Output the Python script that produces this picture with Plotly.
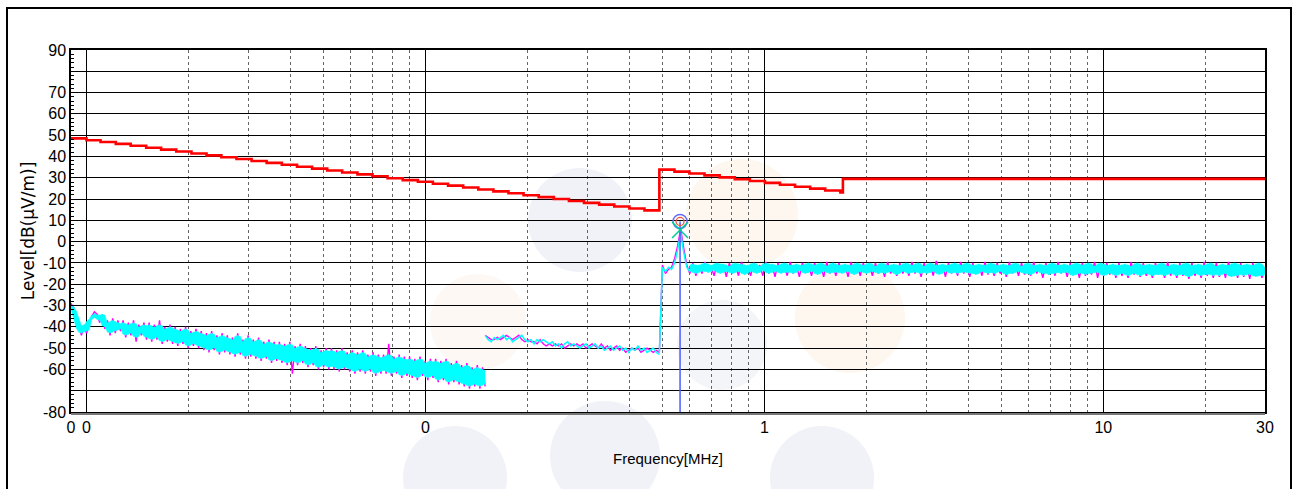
import numpy as np
import plotly.graph_objects as go

# ---------------- data ----------------
limit_freq = [0.0090, 0.0100, 0.0110, 0.0122, 0.0135, 0.0150, 0.0166, 0.0184, 0.0204, 0.0226,
              0.0250, 0.0277, 0.0307, 0.0340, 0.0377, 0.0418, 0.0463, 0.0513, 0.0568, 0.0630,
              0.0698, 0.0773, 0.0857, 0.0950, 0.1052, 0.1166, 0.1292, 0.1432, 0.1587, 0.1758,
              0.1948, 0.2159, 0.2392, 0.2651, 0.2937, 0.3255, 0.3607, 0.3997, 0.4429,
              0.490, 0.543, 0.601, 0.666, 0.738, 0.818, 0.906, 1.004, 1.112, 1.232, 1.365,
              1.512, 1.676, 1.705, 30.0]
limit_level = [48.5, 47.6, 46.8, 45.9, 45.0, 44.1, 43.2, 42.3, 41.4, 40.5,
               39.6, 38.8, 37.9, 37.0, 36.1, 35.2, 34.3, 33.4, 32.5, 31.6,
               30.7, 29.8, 28.9, 28.1, 27.2, 26.3, 25.4, 24.5, 23.6, 22.7,
               21.8, 20.9, 20.0, 19.1, 18.2, 17.4, 16.5, 15.6, 14.7,
               33.8, 32.9, 32.0, 31.1, 30.2, 29.3, 28.5, 27.6, 26.7, 25.8, 24.9,
               24.0, 23.1, 29.5, 29.5]

seg1_start, seg1_stop = 0.009, 0.15
seg2_start, seg2_stop = 0.15, 0.49
seg3_start, seg3_stop = 0.49, 30.0

cyan_seg1 = [-30, -32, -36, -41, -43, -39, -42, -37, -36, -34,
             -35, -37, -34, -40, -38, -43, -37, -42, -38, -41,
             -38, -44, -39, -43, -38, -45, -40, -43, -39, -45,
             -39, -46, -40, -45, -39, -47, -41, -46, -40, -47,
             -41, -48, -42, -47, -41, -49, -43, -48, -42, -49,
             -43, -50, -44, -51, -43, -50, -45, -52, -44, -51,
             -45, -52, -46, -53, -44, -52, -47, -54, -45, -53,
             -47, -54, -46, -55, -48, -54, -47, -56, -48, -55,
             -48, -56, -49, -57, -48, -56, -50, -57, -49, -56,
             -50, -58, -51, -57, -50, -59, -52, -58, -51, -59,
             -51, -59, -52, -60, -51, -59, -53, -60, -52, -61,
             -53, -60, -52, -61, -54, -60, -53, -62, -54, -61,
             -54, -61, -53, -62, -55, -61, -54, -63, -55, -62,
             -55, -63, -56, -64, -55, -62, -57, -64, -56, -63,
             -56, -65, -57, -64, -56, -66, -58, -65, -57, -66,
             -59, -67, -58, -68, -60, -67, -59, -68, -60, -67]
magenta_seg1 = [-29, -31, -35, -40, -44, -40, -43, -38, -35, -33,
                -34, -38, -35, -41, -37, -44, -36, -43, -37, -42,
                -37, -45, -38, -44, -37, -47, -39, -44, -38, -46,
                -38, -47, -39, -46, -37, -48, -40, -47, -39, -48,
                -40, -49, -41, -48, -40, -50, -42, -49, -41, -50,
                -42, -51, -43, -52, -42, -51, -44, -53, -43, -52,
                -44, -53, -45, -54, -43, -53, -46, -55, -44, -54,
                -46, -55, -45, -56, -47, -55, -46, -57, -47, -56,
                -47, -57, -48, -58, -47, -62, -49, -58, -48, -57,
                -49, -59, -50, -58, -49, -60, -51, -59, -50, -60,
                -50, -60, -51, -61, -50, -60, -52, -61, -51, -62,
                -52, -61, -51, -62, -53, -61, -52, -63, -53, -62,
                -53, -62, -48, -63, -54, -62, -53, -64, -54, -63,
                -54, -64, -55, -65, -54, -63, -56, -65, -55, -64,
                -55, -66, -56, -65, -55, -67, -57, -66, -56, -67,
                -58, -68, -57, -69, -59, -68, -58, -69, -59, -68]

cyan_seg2 = [-44, -46, -47, -45, -46, -45, -44, -46, -45, -47,
             -46, -45, -44, -46, -47, -46, -48, -46, -47, -46,
             -47, -48, -47, -49, -48, -50, -48, -47, -49, -48,
             -49, -50, -49, -48, -50, -49, -48, -50, -49, -51,
             -50, -49, -51, -50, -49, -51, -50, -52, -50, -51,
             -49, -51, -50, -52, -51, -50, -52, -53]
magenta_seg2 = [-44, -45, -46, -46, -45, -46, -45, -44, -45, -46,
                -45, -44, -46, -47, -46, -47, -47, -48, -46, -48,
                -49, -48, -49, -48, -49, -48, -50, -49, -48, -49,
                -48, -49, -48, -50, -49, -48, -49, -50, -48, -50,
                -49, -51, -50, -49, -51, -50, -52, -51, -50, -51,
                -50, -52, -51, -50, -51, -52, -51, -52]

cyan_seg3 = [-52, -12, -14, -12, -13, -10, -4, 4, -5, -12,
             -14, -10.5, -15, -11, -14, -10, -14.5, -11, -13.5, -10,
             -15, -10.5, -14, -11.5, -15, -10, -14, -10.5, -15.5, -11,
             -14, -10, -15, -11.5, -13.5, -10, -15, -10.5, -14, -11,
             -15, -10, -14.5, -11, -15, -10.5, -13.5, -11, -15, -10,
             -14, -11, -15.5, -10, -14, -11.5, -15, -10, -14.5, -11,
             -15, -10.5, -14, -11, -15.5, -10, -14, -11, -15, -10,
             -14, -11.5, -15, -10, -15, -11, -14, -10.5, -15.5, -11,
             -14, -10, -15, -11, -14.5, -10, -15, -11.5, -15, -10,
             -14, -11, -15.5, -10.5, -14, -11, -15, -10, -15, -11,
             -14.5, -10, -15, -11, -15.5, -10.5, -14, -11, -15, -10,
             -15, -11, -14, -10.5, -15.5, -11, -15, -10, -14, -11.5,
             -15, -10, -15.5, -11, -14, -10.5, -15, -11, -15.5, -10,
             -15, -11, -15, -10.5, -14.5, -11, -16, -10, -15, -11,
             -15.5, -10, -15, -11.5, -14.5, -10, -16, -11, -15, -10.5,
             -16, -11, -15, -10.5, -16, -11.5, -15, -10, -16, -11,
             -15, -10.5, -16, -11, -15.5, -10, -16, -11.5, -15, -10.5,
             -16, -11, -15.5, -10, -16.5, -11, -15, -10.5, -16, -11,
             -15.5, -10, -16, -11.5, -16, -10.5, -15, -11, -16.5, -10,
             -16, -11, -16, -10.5, -15.5, -11, -16.5, -10, -16, -12]
magenta_seg3 = [-52, -11, -15, -13, -12, -8, -2, 6, -3, -11,
                -15, -10, -16, -11, -15, -9.5, -14, -12, -16, -10,
                -14, -11, -16.5, -10, -15, -11, -16, -9.5, -14, -12,
                -16, -10, -14.5, -11, -16, -9.5, -15, -11, -16.5, -10,
                -14, -11.5, -16, -9.5, -15, -11, -16.5, -10, -14, -11,
                -16, -10, -14.5, -11, -16.5, -9.5, -15, -11, -16, -10,
                -14, -11, -16.5, -9.5, -15, -11, -16, -10, -14.5, -11,
                -16, -10, -15, -11, -16.5, -9.5, -15, -11, -16, -10,
                -15, -11, -16, -9.5, -15, -11, -16.5, -10, -14.5, -11,
                -16, -9, -15, -11, -16.5, -10, -15, -11, -16, -9.5,
                -15, -11, -16.5, -10, -15, -11, -16, -9.5, -15.5, -11,
                -16, -10, -15, -11, -16.5, -9.5, -15, -11, -16, -10,
                -15.5, -11, -16, -9.5, -15, -11, -17, -10, -15.5, -11,
                -16, -9.5, -15, -11, -16.5, -10, -15.5, -11, -17, -10,
                -16, -11, -15.5, -9.5, -17, -11, -16, -10, -15.5, -11,
                -17, -10, -16, -11, -17, -9.5, -15.5, -11, -16.5, -10,
                -16, -11, -17, -10, -15.5, -11, -17, -9.5, -16, -11,
                -17, -10, -16, -11, -17.5, -10, -16, -11, -17, -9.5,
                -16, -11, -17, -10, -16.5, -11, -17, -9.5, -16, -11,
                -17, -10, -16.5, -11, -17.5, -10, -16, -11, -17, -12]

peak_freq = [0.564]
peak_magenta = [9.5]
peak_cyan = [5.5]

x_tickvals = [0.009, 0.01, 0.1, 1, 10, 30]
x_ticktext = ["0", "0", "0", "1", "10", "30"]
x_minor = [0.02, 0.03, 0.04, 0.05, 0.06, 0.07, 0.08, 0.09,
           0.2, 0.3, 0.4, 0.5, 0.6, 0.7, 0.8, 0.9,
           2, 3, 4, 5, 6, 7, 8, 9, 20]
y_tickvals = [90, 80, 70, 60, 50, 40, 30, 20, 10, 0, -10, -20, -30, -40, -50, -60, -70, -80]
y_ticktext = ["90", "", "70", "60", "50", "40", "30", "20", "10", "0",
              "-10", "-20", "-30", "-40", "-50", "-60", "", "-80"]

# ---------------- figure ----------------
W, H = 1299, 489
L, R, T, B = 71, 1265, 50, 412
TICKFONT = "Liberation Sans, Arial, sans-serif"

def px(x):
    return (x - L) / (R - L)

def py(y):
    return (B - y) / (B - T)

def envelope(vals):
    a = np.asarray(vals, dtype=float)
    left = np.concatenate(([a[0]], a[:-1]))
    right = np.concatenate((a[1:], [a[-1]]))
    return np.maximum(np.maximum(left, a), right), np.minimum(np.minimum(left, a), right)

fig = go.Figure()

segments = [
    (seg1_start, seg1_stop, magenta_seg1, cyan_seg1, 0, True),
    (seg2_start, seg2_stop, magenta_seg2, cyan_seg2, 0, False),
    (seg3_start, seg3_stop, magenta_seg3, cyan_seg3, 10, True),
]
# magenta traces underneath
for f0, f1, mag, cya, b0, band in segments:
    fig.add_trace(go.Scatter(x=np.geomspace(f0, f1, len(mag)), y=mag, mode="lines",
                             line=dict(color="#ff00ff", width=1.4), showlegend=False,
                             hoverinfo="skip"))
# cyan traces on top (solid band where the sweep is dense)
for f0, f1, mag, cya, b0, band in segments:
    fx = np.geomspace(f0, f1, len(cya))
    if band:
        up, lo = envelope(cya)
        xs = np.concatenate((fx[b0:], fx[b0:][::-1]))
        ys = np.concatenate((up[b0:] - 0.4, lo[b0:][::-1] + 0.4))
        fig.add_trace(go.Scatter(x=xs, y=ys, mode="lines", fill="toself",
                                 fillcolor="#00ffff", line=dict(color="#00ffff", width=0.5),
                                 showlegend=False, hoverinfo="skip"))
    fig.add_trace(go.Scatter(x=fx, y=cya, mode="lines",
                             line=dict(color="#00ffff", width=1.5), showlegend=False,
                             hoverinfo="skip"))

fig.add_trace(go.Scatter(x=limit_freq, y=limit_level, mode="lines",
                         line=dict(color="#ff0000", width=2.6, shape="hv"),
                         showlegend=False))

# marker line and peak markers
fig.add_trace(go.Scatter(x=[peak_freq[0], peak_freq[0]], y=[peak_magenta[0], -80],
                         mode="lines", line=dict(color="#4a5cff", width=1.5),
                         showlegend=False))
fig.add_trace(go.Scatter(x=peak_freq, y=peak_magenta, mode="markers",
                         marker=dict(symbol="circle-open", size=14,
                                     line=dict(color="#ff00ff", width=1.5)),
                         showlegend=False))
fig.add_trace(go.Scatter(x=peak_freq, y=peak_magenta, mode="markers",
                         marker=dict(symbol="circle-open", size=8,
                                     line=dict(color="#ff44cc", width=1.3)),
                         showlegend=False))
fig.add_trace(go.Scatter(x=peak_freq, y=peak_cyan, mode="markers",
                         marker=dict(symbol="x-thin-open", size=16,
                                     line=dict(color="#3f8cff", width=1.5)),
                         showlegend=False))

# faint watermark circles behind the plot
wm = [
    (580, 220, 52, "#f0f2f7"),
    (742, 215, 56, "#fdf7ef"),
    (850, 318, 55, "#fdf7ef"),
    (478, 322, 48, "#fdf8f3"),
    (722, 345, 45, "#f4f5f8"),
    (455, 478, 52, "#f0f2f7"),
    (605, 456, 55, "#f0f2f7"),
    (822, 478, 52, "#f0f2f7"),
]
shapes = []
for cx, cy, r, col in wm:
    shapes.append(dict(type="circle", xref="paper", yref="paper", layer="below",
                       x0=px(cx - r), x1=px(cx + r), y0=py(cy + r), y1=py(cy - r),
                       fillcolor=col, line=dict(width=0)))
# outer frame of the picture
shapes.append(dict(type="rect", xref="paper", yref="paper", layer="above",
                   x0=px(7), x1=px(1291), y0=py(520), y1=py(8),
                   line=dict(color="#000000", width=2)))
# thick bottom axis with grey shade
shapes.append(dict(type="line", xref="paper", yref="paper", layer="above",
                   x0=0, x1=1, y0=py(414), y1=py(414),
                   line=dict(color="#777777", width=2)))

fig.update_layout(
    width=W, height=H,
    margin=dict(l=L, r=W - R, t=T, b=H - B),
    paper_bgcolor="white", plot_bgcolor="rgba(0,0,0,0)",
    font=dict(family=TICKFONT, size=16, color="#000000"),
    shapes=shapes,
    showlegend=False,
)
fig.update_xaxes(
    type="log", range=[np.log10(0.009), np.log10(30)],
    tickvals=x_tickvals, ticktext=x_ticktext,
    showgrid=True, gridcolor="#000000", gridwidth=1,
    showline=True, linecolor="#000000", linewidth=2, mirror=True,
    ticks="", tickfont=dict(family=TICKFONT, size=16),
    minor=dict(tickvals=x_minor, showgrid=True, gridcolor="#666666",
               griddash="dot", gridwidth=1, ticks=""),
    title=dict(text="Frequency[MHz]", font=dict(family=TICKFONT, size=15), standoff=18),
    zeroline=False,
)
fig.update_yaxes(
    range=[-80, 90], tickvals=y_tickvals, ticktext=y_ticktext,
    showgrid=True, gridcolor="#000000", gridwidth=1,
    showline=True, linecolor="#000000", linewidth=1.5, mirror=True,
    ticks="inside", ticklen=5, tickcolor="#000000",
    tickfont=dict(family=TICKFONT, size=16),
    minor=dict(dtick=2, ticks="inside", ticklen=3, tickcolor="#000000", showgrid=False),
    title=dict(text="Level[dB(μV/m)]", font=dict(family="DejaVu Sans", size=17), standoff=4),
    zeroline=False,
)

fig.write_html("out.html", config={"displayModeBar": False},
               post_script="document.body.style.margin='0px';document.body.style.overflow='hidden';")
